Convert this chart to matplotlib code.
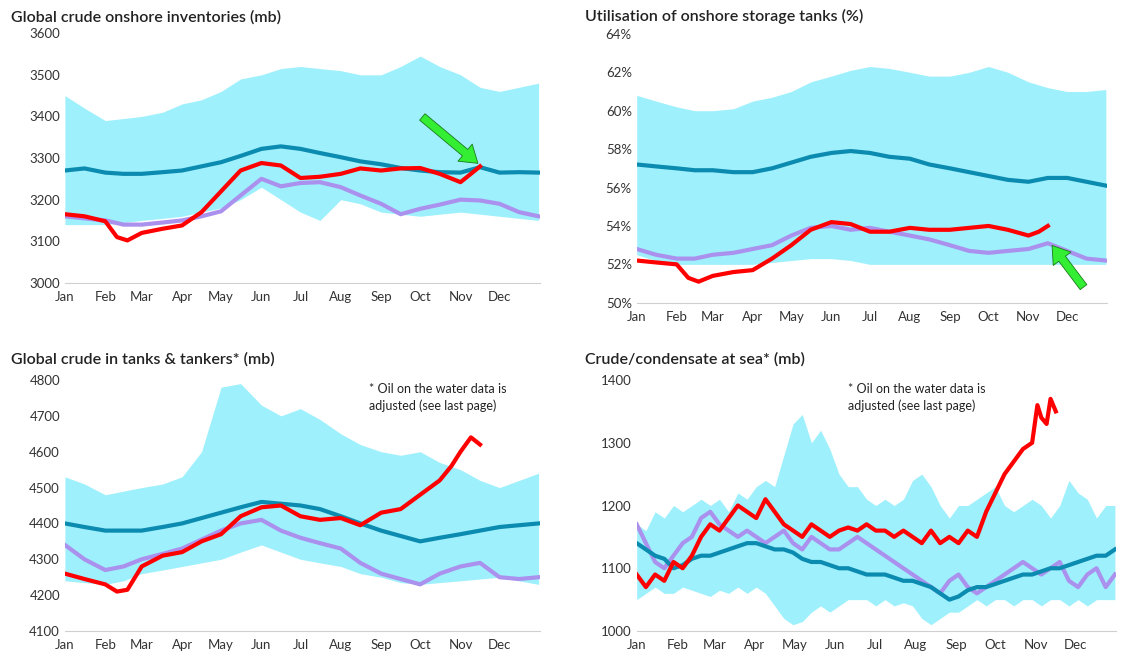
import numpy as np
import matplotlib.pyplot as plt

months = ['Jan','Feb','Mar','Apr','May','Jun','Jul','Aug','Sep','Oct','Nov','Dec']
month_days = [0,31,59,90,120,151,181,212,243,273,304,334]

# ---- Panel 1: Global crude onshore inventories (mb)
p1_days = [0,15,31,45,59,75,90,105,120,135,151,166,181,196,212,227,243,258,273,288,304,319,334,349,364]
p1_hi   = [3450,3420,3390,3395,3400,3410,3430,3440,3460,3490,3500,3515,3520,3515,3510,3500,3500,3520,3545,3520,3500,3470,3460,3470,3480]
p1_lo   = [3140,3140,3140,3145,3150,3155,3160,3170,3180,3200,3230,3200,3170,3150,3200,3190,3170,3165,3160,3165,3170,3165,3160,3155,3150]
p1_teal = [3270,3275,3265,3262,3262,3266,3270,3280,3290,3305,3322,3328,3322,3312,3302,3292,3285,3276,3270,3266,3265,3278,3265,3266,3265]
p1_purp = [3160,3155,3150,3140,3140,3145,3150,3160,3172,3210,3250,3232,3240,3242,3230,3210,3190,3165,3178,3188,3200,3198,3190,3170,3160]
p1_red_days = [0,15,31,40,48,59,75,90,105,120,135,151,166,181,196,212,227,243,258,273,288,304,312,319]
p1_red  = [3165,3160,3148,3110,3102,3120,3130,3138,3170,3220,3270,3288,3282,3252,3255,3262,3275,3270,3275,3276,3262,3242,3262,3280]

# ---- Panel 2: Utilisation of onshore storage tanks (%)
p2_hi   = [60.8,60.5,60.2,60.0,60.0,60.1,60.5,60.7,61.0,61.5,61.8,62.1,62.3,62.2,62.0,61.8,61.8,62.0,62.3,62.0,61.5,61.2,61.0,61.0,61.1]
p2_lo   = [52.5,52.2,52.0,52.0,52.0,52.0,52.0,52.1,52.2,52.3,52.3,52.2,52.0,52.0,52.0,52.0,52.0,52.0,52.0,52.0,52.0,52.0,52.0,52.0,52.0]
p2_teal = [57.2,57.1,57.0,56.9,56.9,56.8,56.8,57.0,57.3,57.6,57.8,57.9,57.8,57.6,57.5,57.2,57.0,56.8,56.6,56.4,56.3,56.5,56.5,56.3,56.1]
p2_purp = [52.8,52.5,52.3,52.3,52.5,52.6,52.8,53.0,53.5,53.9,54.0,53.8,53.9,53.7,53.5,53.3,53.0,52.7,52.6,52.7,52.8,53.1,52.7,52.3,52.2]
p2_red  = [52.2,52.1,52.0,51.3,51.1,51.4,51.6,51.7,52.3,53.0,53.8,54.2,54.1,53.7,53.7,53.9,53.8,53.8,53.9,54.0,53.8,53.5,53.7,54.0]

# ---- Panel 3: Global crude in tanks & tankers (mb)
p3_hi   = [4530,4510,4480,4490,4500,4510,4530,4600,4780,4790,4730,4700,4720,4690,4650,4620,4600,4590,4600,4570,4550,4520,4500,4520,4540]
p3_lo   = [4240,4235,4230,4240,4260,4270,4280,4290,4300,4320,4340,4320,4300,4290,4280,4260,4250,4235,4230,4235,4240,4245,4250,4240,4230]
p3_teal = [4400,4390,4380,4380,4380,4390,4400,4415,4430,4445,4460,4455,4450,4440,4420,4400,4380,4365,4350,4360,4370,4380,4390,4395,4400]
p3_purp = [4340,4300,4270,4280,4300,4315,4330,4355,4380,4400,4410,4380,4360,4345,4330,4290,4260,4245,4230,4260,4280,4290,4250,4245,4250]
p3_red_days = [0,15,31,40,48,59,75,90,105,120,135,151,166,181,196,212,227,243,258,273,288,297,304,312,319]
p3_red  = [4260,4245,4230,4210,4215,4280,4310,4320,4350,4370,4420,4445,4450,4420,4410,4415,4395,4430,4440,4480,4520,4560,4600,4640,4620]

# ---- Panel 4: Crude/condensate at sea (mb)
p4_days = [0,7,14,21,28,35,42,49,56,63,70,77,84,91,98,105,112,119,126,133,140,147,154,161,168,175,182,189,196,203,210,217,224,231,238,245,252,259,266,273,280,287,294,301,308,315,322,329,336,343,350,357,364]
p4_hi   = [1170,1160,1190,1180,1200,1190,1200,1210,1200,1210,1190,1220,1210,1230,1240,1230,1280,1330,1345,1300,1320,1290,1250,1230,1230,1210,1200,1210,1200,1210,1240,1250,1230,1200,1180,1200,1200,1210,1220,1230,1200,1190,1200,1210,1200,1180,1200,1240,1220,1210,1180,1200,1200]
p4_lo   = [1050,1060,1070,1060,1060,1070,1065,1060,1055,1065,1060,1070,1060,1070,1060,1040,1020,1010,1015,1030,1040,1030,1040,1050,1050,1050,1040,1050,1040,1045,1040,1020,1010,1020,1030,1030,1040,1050,1040,1050,1050,1040,1050,1050,1040,1050,1050,1040,1050,1040,1050,1050,1050]
p4_teal = [1140,1130,1120,1115,1100,1105,1115,1120,1120,1125,1130,1135,1140,1140,1135,1130,1130,1125,1115,1110,1110,1105,1100,1100,1095,1090,1090,1090,1085,1080,1080,1075,1070,1060,1050,1055,1065,1070,1070,1075,1080,1085,1090,1090,1095,1100,1100,1105,1110,1115,1120,1120,1130]
p4_purp = [1170,1140,1110,1100,1120,1140,1150,1180,1190,1170,1160,1150,1160,1150,1140,1150,1160,1140,1130,1150,1140,1130,1130,1140,1150,1140,1130,1120,1110,1100,1090,1080,1070,1060,1080,1090,1070,1060,1070,1080,1090,1100,1110,1100,1090,1100,1110,1080,1070,1090,1100,1070,1090]
p4_red_days = [0,7,14,21,28,35,42,49,56,63,70,77,84,91,98,105,112,119,126,133,140,147,154,161,168,175,182,189,196,203,210,217,224,231,238,245,252,259,266,273,280,287,294,301,305,308,312,315,319]
p4_red  = [1090,1070,1090,1080,1110,1100,1120,1150,1170,1160,1180,1200,1190,1180,1210,1190,1170,1160,1150,1170,1160,1150,1160,1165,1160,1170,1160,1160,1150,1160,1150,1140,1160,1140,1150,1140,1160,1150,1190,1220,1250,1270,1290,1300,1360,1340,1330,1370,1350]

BAND = '#9ef0fc'; TEAL = '#0b8bb0'; PURP = '#ab91ee'; RED = '#ff0000'

plt.rcParams['font.family'] = ['Lato', 'DejaVu Sans']
fig = plt.figure(figsize=(11.39, 6.64), dpi=100)

def panel(rect, days, hi, lo, teal, purp, rdays, red, ylim, yticks, ylabels, title, tx, ty):
    ax = fig.add_axes(rect)
    ax.fill_between(days, lo, hi, color=BAND, lw=0)
    ax.plot(days, purp, color=PURP, lw=3)
    ax.plot(days, teal, color=TEAL, lw=3)
    ax.plot(rdays, red, color=RED, lw=3)
    ax.set_xlim(0, 365)
    ax.set_ylim(*ylim)
    ax.set_yticks(yticks)
    ax.set_yticklabels(ylabels)
    ax.set_xticks(month_days)
    ax.set_xticklabels(months)
    for s in ['top', 'right', 'left']:
        ax.spines[s].set_visible(False)
    ax.spines['bottom'].set_color('#d0d0d0')
    ax.tick_params(axis='both', length=0, labelsize=9.5, colors='#333333')
    ax.tick_params(axis='x', pad=6)
    fig.text(tx, ty, title, fontsize=11.5, fontweight='semibold', color='#222222')
    return ax

t1 = [3000,3100,3200,3300,3400,3500,3600]
ax1 = panel([0.057,0.574,0.417,0.376], p1_days, p1_hi, p1_lo, p1_teal, p1_purp, p1_red_days, p1_red,
            (3000,3600), t1, [str(v) for v in t1], 'Global crude onshore inventories (mb)', 0.010, 0.968)
t2 = [50,52,54,56,58,60,62,64]
ax2 = panel([0.559,0.544,0.413,0.405], p1_days, p2_hi, p2_lo, p2_teal, p2_purp, p1_red_days, p2_red,
            (50,64), t2, [f'{v}%' for v in t2], 'Utilisation of onshore storage tanks (%)', 0.514, 0.968)
t3 = [4100,4200,4300,4400,4500,4600,4700,4800]
ax3 = panel([0.057,0.0497,0.417,0.378], p1_days, p3_hi, p3_lo, p3_teal, p3_purp, p3_red_days, p3_red,
            (4100,4800), t3, [str(v) for v in t3], 'Global crude in tanks & tankers* (mb)', 0.010, 0.452)
t4 = [1000,1100,1200,1300,1400]
ax4 = panel([0.559,0.0497,0.421,0.378], p4_days, p4_hi, p4_lo, p4_teal, p4_purp, p4_red_days, p4_red,
            (1000,1400), t4, [str(v) for v in t4], 'Crude/condensate at sea* (mb)', 0.514, 0.452)

ax3.text(0.64, 0.99, '* Oil on the water data is\nadjusted (see last page)', transform=ax3.transAxes,
         fontsize=9, va='top', ha='left', linespacing=1.5, color='#222222')
ax4.text(0.44, 0.99, '* Oil on the water data is\nadjusted (see last page)', transform=ax4.transAxes,
         fontsize=9, va='top', ha='left', linespacing=1.5, color='#222222')

arrow = dict(arrowstyle='simple,head_width=1.6,head_length=1.2,tail_width=0.6',
             facecolor='#33ee33', edgecolor='#1a7a1a', lw=0.6)
ax1.annotate('', xy=(319, 3283), xytext=(273, 3403), arrowprops=arrow)
ax2.annotate('', xy=(321, 53.1), xytext=(348, 50.7), arrowprops=arrow)

fig.savefig('out.png', dpi=100)
